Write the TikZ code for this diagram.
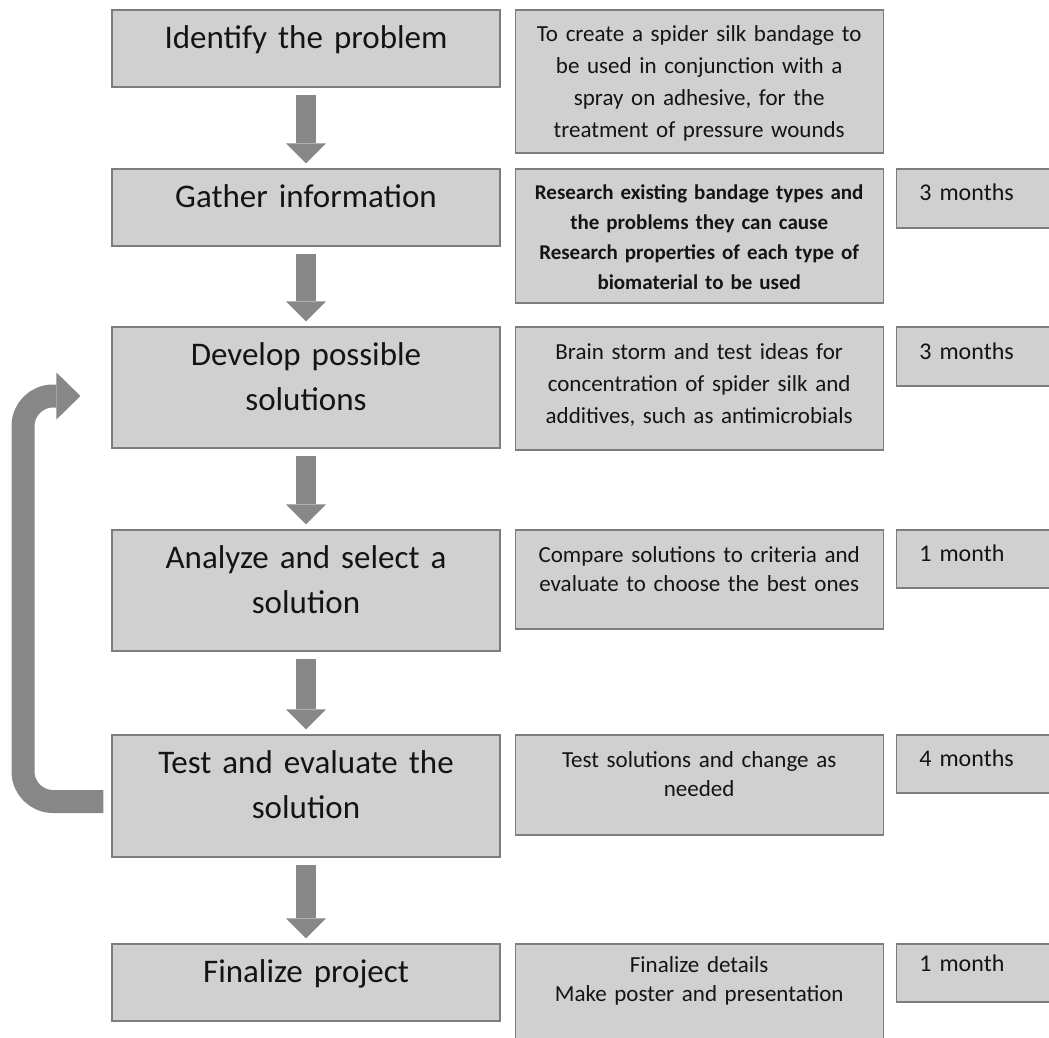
\documentclass[tikz,border=0pt]{standalone}
\usepackage{fontspec}
\setmainfont{Carlito}
\usetikzlibrary{arrows.meta,positioning}
\definecolor{boxfill}{RGB}{208,208,208}
\definecolor{boxline}{RGB}{125,125,125}
\definecolor{arrowgray}{RGB}{135,135,135}
\definecolor{txt}{RGB}{20,20,20}

\begin{document}
\begin{tikzpicture}[x=1pt,y=-1pt,
    stepbox/.style={draw=boxline,line width=1.2pt,fill=boxfill,text=txt,align=center},
    leftbox/.style={stepbox,text width=370pt,inner xsep=9pt,font=\fontsize{33}{45}\selectfont},
    oneline/.style={text height=12pt,text depth=12pt},
    twolines/.style={text height=10pt,text depth=55pt},
    midbox/.style={stepbox,anchor=north west,text width=350pt,inner xsep=9pt,inner ysep=0pt,font=\fontsize{23}{32}\selectfont},
    timebox/.style={stepbox,anchor=north west,text width=140pt,align=left,inner xsep=23pt,inner ysep=0pt,font=\fontsize{24}{29}\selectfont},
    downarrow/.style={draw=arrowgray,line width=20pt,shorten <=7pt,shorten >=5pt,-{Triangle[length=20pt,width=40pt,line width=0pt]}},
    loopback/.style={draw=arrowgray,line width=23pt,rounded corners=30pt,-{Triangle[length=24pt,width=47pt,line width=0pt]}}]
    \useasboundingbox (0,0) rectangle (1049,1038);

    % Steps
    \node[leftbox,oneline,minimum height=77pt] (l1) at (306,48.5) {Identify the problem};
    \node[leftbox,oneline,minimum height=77pt] (l2) at (306,207.5) {Gather information};
    \node[leftbox,twolines,minimum height=121pt] (l3) at (306,387.5) {Develop possible\\ solutions};
    \node[leftbox,twolines,minimum height=121pt] (l4) at (306,590.5) {Analyze and select a\\ solution};
    \node[leftbox,twolines,minimum height=122pt] (l5) at (306,796) {Test and evaluate the\\ solution};
    \node[leftbox,oneline,minimum height=77pt] (l6) at (306,982.5) {Finalize project};

    % Details
    \node[midbox,text height=32pt,text depth=111pt] (m1) at ([xshift=14pt]l1.north east) {To create a spider silk bandage to\\ be used in conjunction with a\\ spray on adhesive, for the\\ treatment of pressure wounds};
    \node[midbox,text height=30pt,text depth=104pt,font=\fontsize{21}{30}\selectfont\bfseries] (m2) at ([xshift=14pt]l2.north east) {Research existing bandage types and\\ the problems they can cause\\ Research properties of each type of\\ biomaterial to be used};
    \node[midbox,text height=32pt,text depth=91pt] (m3) at ([xshift=14pt]l3.north east) {Brain storm and test ideas for\\ concentration of spider silk and\\ additives, such as antimicrobials};
    \node[midbox,text height=32pt,text depth=67pt,font=\fontsize{23}{29}\selectfont] (m4) at ([xshift=14pt]l4.north east) {Compare solutions to criteria and\\ evaluate to choose the best ones};
    \node[midbox,text height=32pt,text depth=68pt,font=\fontsize{23}{29}\selectfont] (m5) at ([xshift=14pt]l5.north east) {Test solutions and change as\\ needed};
    \node[midbox,text height=28pt,text depth=75pt,font=\fontsize{23}{29}\selectfont] (m6) at ([xshift=14pt]l6.north east) {Finalize details\\ Make poster and presentation};

    % Durations
    \node[timebox,text height=31pt,text depth=28pt] (r2) at ([xshift=12pt]m2.north east) {3 months};
    \node[timebox,text height=32pt,text depth=27pt] (r3) at ([xshift=12pt]m3.north east) {3 months};
    \node[timebox,text height=31pt,text depth=27pt] (r4) at ([xshift=12pt]m4.north east) {1 month};
    \node[timebox,text height=31pt,text depth=27pt] (r5) at ([xshift=12pt]m5.north east) {4 months};
    \node[timebox,text height=27pt,text depth=31pt] (r6) at ([xshift=12pt]m6.north east) {1 month};

    % Arrows
    \draw[downarrow] (l1) -- (l2);
    \draw[downarrow] (l2) -- (l3);
    \draw[downarrow] (l3) -- (l4);
    \draw[downarrow] (l4) -- (l5);
    \draw[downarrow] (l5) -- (l6);
    \draw[loopback] ([xshift=-8pt,yshift=-5.5pt]l5.west) -| (23,396) -- ([xshift=-31pt,yshift=-8.5pt]l3.west);
\end{tikzpicture}
\end{document}
